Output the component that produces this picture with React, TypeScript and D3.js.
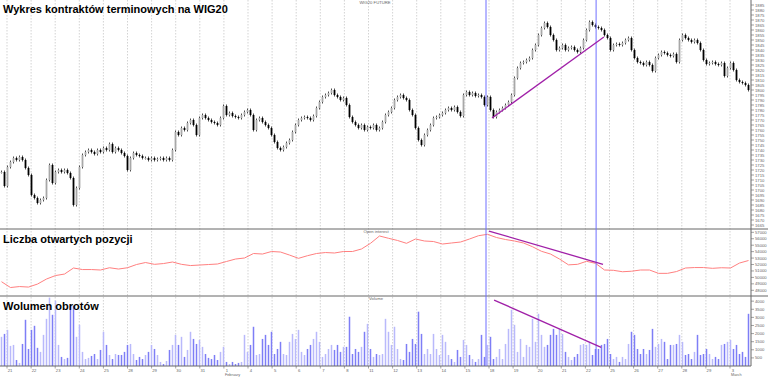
import React from "react";
import * as d3 from "d3";

// Closing prices of the intraday bars (8 bars per session)
const closes = [
  1718, 1704, 1723, 1728, 1732, 1730, 1733, 1730,
  1722, 1715, 1695, 1692, 1687, 1690, 1692, 1710,
  1725, 1707, 1718, 1720, 1718, 1720, 1717, 1712,
  1685, 1702, 1723, 1735, 1738, 1740, 1738, 1736,
  1740, 1738, 1742, 1740, 1746, 1738, 1742, 1740,
  1737, 1734, 1720, 1732, 1737, 1735, 1734, 1732,
  1732, 1730, 1732, 1730, 1731, 1732, 1730, 1732,
  1730, 1740, 1758, 1755, 1762, 1760, 1767, 1770,
  1765, 1755, 1772, 1775, 1772, 1770, 1768, 1767,
  1765, 1772, 1784, 1775, 1777, 1774, 1773, 1772,
  1775, 1778, 1780, 1775, 1760, 1770, 1772, 1768,
  1765, 1762, 1755, 1748, 1742, 1740, 1743, 1747,
  1750, 1758, 1765, 1770, 1772, 1773, 1772, 1770,
  1774, 1782, 1788, 1793, 1795, 1797, 1800, 1795,
  1793, 1790, 1792, 1785, 1773, 1768, 1765, 1762,
  1765, 1760, 1763, 1762, 1765, 1760, 1762, 1768,
  1775, 1778, 1782, 1790, 1793, 1795, 1792, 1790,
  1780, 1775, 1762, 1750, 1745, 1755, 1760, 1765,
  1772, 1773, 1775, 1777, 1780, 1782, 1780, 1783,
  1778, 1774, 1795, 1798, 1795, 1797, 1794, 1795,
  1793, 1785, 1793, 1780, 1773, 1778, 1780, 1782,
  1785, 1788, 1795, 1812, 1822, 1827, 1828, 1830,
  1832, 1840, 1845, 1855, 1862, 1867, 1863, 1855,
  1850, 1840, 1842, 1845, 1840, 1842, 1843, 1840,
  1838, 1842, 1850, 1860, 1868, 1865, 1863, 1862,
  1860, 1855, 1852, 1840, 1845, 1846, 1845, 1847,
  1850, 1852, 1840, 1832, 1828, 1827, 1825, 1828,
  1825, 1819, 1832, 1835, 1838, 1837, 1835, 1834,
  1836, 1828, 1850, 1855, 1852, 1850, 1848, 1850,
  1847, 1840, 1830, 1826, 1827, 1828, 1826, 1825,
  1827, 1814, 1822, 1827, 1820, 1810, 1808, 1807,
  1805, 1800,
];

// Volume of each bar
const volumes = [
  1800, 1980, 2230, 1240, 1300, 370, 190, 1360, 2850, 1050,
  2230, 2480, 1120, 870, 1920, 2910, 4220, 3160, 4030, 1300,
  560, 430, 500, 3720, 3720, 1800, 2540, 870, 430, 500,
  620, 740, 430, 990, 2110, 1300, 680, 430, 740, 680,
  680, 870, 1300, 1360, 740, 370, 560, 430, 680, 870,
  1300, 1050, 680, 250, 120, 310, 990, 1300, 1920, 1300,
  1800, 560, 990, 2110, 1670, 1360, 1610, 1180, 740, 500,
  430, 680, 370, 870, 1180, 250, 120, 250, 120, 190,
  250, 1920, 870, 1300, 2420, 680, 740, 1670, 1920, 1300,
  2110, 740, 1050, 1490, 740, 680, 1490, 1980, 1670, 2230,
  870, 680, 1050, 1300, 1670, 2110, 1490, 560, 740, 1050,
  1300, 990, 1300, 870, 1180, 1180, 3040, 740, 1050, 870,
  1180, 2110, 2600, 1050, 560, 740, 680, 740,
  2910, 2110, 1300, 2420, 1050, 430, 370, 1360, 870, 1670,
  1360, 3350, 1980, 740, 1050, 740, 1980, 1050, 680, 1920,
  1490, 680, 430, 250, 990, 560, 1610, 1300, 680, 430,
  250, 430, 1920, 560, 1300, 1800, 430, 560, 1050, 430,
  1360, 2290, 3470, 2540, 870, 1670, 560, 1300, 1180, 2910,
  1490, 3220, 1920, 1180, 1300, 1920, 2290, 1920, 2290, 1980,
  870, 560, 370, 560, 740, 1300, 1360, 1300, 1490, 680,
  1050, 1050, 1300, 1360, 1670, 740, 430, 560, 250, 560,
  430, 1360, 2110, 1920, 1050, 740, 1050, 740, 990, 2290,
  1180, 1360, 1670, 1490, 430, 1300, 1300, 1360, 1920, 1490,
  680, 740, 430, 870, 1920, 680, 740, 1050, 740, 430,
  560, 430, 1300, 1360, 1490, 1610, 1050, 1300, 740, 870,
  560, 3220,
];

// Open interest, one reading every 3 bars
const openInterest = [
  49330, 48430, 48580, 48500, 48970, 49750, 50290, 50520, 51460, 51220,
  51220, 51150, 51500, 51300, 51500, 52000, 52310, 52030, 52150, 52390,
  52030, 51840, 51920, 52000, 52080, 52470, 52850, 53010, 53710, 53630,
  54020, 53940, 53470, 52960, 53370, 53710, 53860, 53790, 54020, 54020,
  54410, 55290, 56430, 56070, 55730, 55290, 55960, 55650, 55570, 55180,
  55340, 55490, 55960, 56470, 56690, 56190, 55880, 55650, 55340, 54760,
  54050, 53630, 52850, 51950, 52030, 52500, 52190, 51150, 51100, 50880,
  50960, 51150, 51150, 50630, 50630, 50910, 51460, 51530, 51530, 51410,
  51500, 51460, 52230, 52620,
];
const oiStep = 3;

// Session (day) labels on the time axis
const dayLabels = [
  "21", "22", "23", "24", "25", "28", "29", "30", "31",
  "1", "4", "5", "6", "7", "8", "11", "12", "13", "14", "15",
  "18", "19", "20", "21", "22", "25", "26", "27", "28", "29",
  "3",
];
const monthLabels = [
  { day: 9, text: "February" },
  { day: 30, text: "March" },
];

const priceTicks = d3.range(1665, 1886, 5);
const oiTicks = d3.range(48000, 57001, 1000);
const volTicks = d3.range(500, 4001, 500);

// Annotations (bar index, value)
const markerBars = [162, 198.7];
const priceTrend = [
  [164, 1772],
  [201.3, 1853],
];
const oiTrend = [
  [163, 57200],
  [201, 52030],
];
const volTrend = [
  [164.7, 4070],
  [200.4, 1150],
];

const W = 768;
const H = 377;
const AX = 751;
const SEP1 = 229;
const SEP2 = 296;
const BASE = 366;

export default function App() {
  const n = closes.length;
  const x = d3.scaleLinear().domain([0, n]).range([0, 750]);
  const xDay = d3.scaleLinear().domain([0, 30]).range([7, 730]);
  const yP = d3.scaleLinear().domain([1664, 1890]).range([226, 0]);
  const yOI = d3.scaleLinear().domain([48000, 57000]).range([290.3, 232.3]);
  const yV = d3.scaleLinear().domain([0, 4000]).range([BASE, BASE - 4000 / 61.7]);

  const bars = closes.map((c, i) => {
    const o = i === 0 ? c : closes[i - 1];
    const hi = Math.max(o, c) + 1.5;
    const lo = Math.min(o, c) - 1.5;
    return { i, o, c, hi, lo, up: c >= o };
  });

  const oiLine = d3
    .line<number>()
    .x((_, k) => x(k * oiStep + 0.5))
    .y((d) => yOI(d))(openInterest);

  const font = "'Liberation Sans', Arial, sans-serif";
  const tiny = { fontFamily: font, fontSize: 4.2, fill: "#666" } as const;

  return (
    <svg
      width={W}
      height={H}
      style={{ position: "absolute", left: 0, top: 0, background: "#fff" }}
    >
      <defs>
        <clipPath id="pclip">
          <rect x={0} y={0} width={AX} height={SEP1} />
        </clipPath>
      </defs>
      <rect x={0} y={0} width={W} height={H} fill="#fff" />
      {/* day gridlines */}
      {dayLabels.map((_, k) => (
        <line
          key={"g" + k}
          x1={xDay(k)}
          x2={xDay(k)}
          y1={0}
          y2={BASE}
          stroke="#c8c8c8"
          strokeWidth={0.8}
          strokeDasharray="1.5,1.5"
        />
      ))}

      {/* candles */}
      <g clipPath="url(#pclip)">
        {bars.map((b) => {
          const cx = x(b.i + 0.5);
          const top = yP(Math.max(b.o, b.c));
          const bot = yP(Math.min(b.o, b.c));
          return (
            <g key={"c" + b.i}>
              <line x1={cx} x2={cx} y1={yP(b.hi)} y2={yP(b.lo)} stroke="#222" strokeWidth={0.8} />
              <rect
                x={cx - 0.9}
                y={top}
                width={1.8}
                height={Math.max(1, bot - top)}
                fill={b.up ? "#a8a8a8" : "#000"}
              />
            </g>
          );
        })}
      </g>

      {/* open interest */}
      <path d={oiLine || ""} fill="none" stroke="#ff8080" strokeWidth={1} />

      {/* volume */}
      {volumes.map((v, i) => (
        <rect
          key={"v" + i}
          x={x(i + 0.5) - 0.75}
          y={Math.max(SEP2, yV(v))}
          width={1.5}
          height={BASE - Math.max(SEP2, yV(v))}
          fill={bars[i] && bars[i].up ? "#b9b9fb" : "#7e7ef6"}
        />
      ))}

      {/* separators & axes */}
      <line x1={0} x2={W} y1={SEP1} y2={SEP1} stroke="#666" strokeWidth={1} />
      <line x1={0} x2={W} y1={SEP2} y2={SEP2} stroke="#666" strokeWidth={1} />
      <line x1={0} x2={AX} y1={BASE} y2={BASE} stroke="#666" strokeWidth={1} />
      <line x1={AX} x2={AX} y1={0} y2={BASE} stroke="#666" strokeWidth={1} />

      {/* marker verticals */}
      {markerBars.map((m, k) => (
        <line key={"m" + k} x1={x(m)} x2={x(m)} y1={0} y2={BASE} stroke="#6f6fff" strokeWidth={1} />
      ))}

      {/* trend lines */}
      <line
        x1={x(priceTrend[0][0])}
        y1={yP(priceTrend[0][1])}
        x2={x(priceTrend[1][0])}
        y2={yP(priceTrend[1][1])}
        stroke="#a020a8"
        strokeWidth={1.3}
      />
      <line
        x1={x(oiTrend[0][0])}
        y1={yOI(oiTrend[0][1])}
        x2={x(oiTrend[1][0])}
        y2={yOI(oiTrend[1][1])}
        stroke="#a020a8"
        strokeWidth={1.3}
      />
      <line
        x1={x(volTrend[0][0])}
        y1={yV(volTrend[0][1])}
        x2={x(volTrend[1][0])}
        y2={yV(volTrend[1][1])}
        stroke="#a020a8"
        strokeWidth={1.3}
      />

      {/* right axis ticks */}
      {priceTicks.map((p) => (
        <g key={"pt" + p}>
          <line x1={AX} x2={AX + 3} y1={yP(p)} y2={yP(p)} stroke="#666" strokeWidth={0.6} />
          <text x={AX + 4} y={yP(p) + 1.5} {...tiny}>
            {p}
          </text>
        </g>
      ))}
      {oiTicks.map((p) => (
        <g key={"ot" + p}>
          <line x1={AX} x2={AX + 3} y1={yOI(p)} y2={yOI(p)} stroke="#666" strokeWidth={0.6} />
          <text x={AX + 4} y={yOI(p) + 1.5} {...tiny}>
            {p}
          </text>
        </g>
      ))}
      {volTicks.map((p) => (
        <g key={"vt" + p}>
          <line x1={AX} x2={AX + 3} y1={yV(p)} y2={yV(p)} stroke="#666" strokeWidth={0.6} />
          <text x={AX + 4} y={yV(p) + 1.5} {...tiny}>
            {p}
          </text>
        </g>
      ))}

      {/* bottom axis */}
      {dayLabels.map((d, k) => (
        <g key={"d" + k}>
          <line x1={xDay(k)} x2={xDay(k)} y1={BASE} y2={BASE + 2.5} stroke="#666" strokeWidth={0.6} />
          <text x={xDay(k) + 3} y={BASE + 5.5} textAnchor="middle" {...tiny}>
            {d}
          </text>
        </g>
      ))}
      {monthLabels.map((m) => (
        <text key={m.text} x={xDay(m.day) + 1} y={BASE + 10.3} {...tiny} fontSize={3.8}>
          {m.text}
        </text>
      ))}

      {/* small panel captions */}
      <text x={375} y={4} textAnchor="middle" {...tiny}>
        WIG20 FUTURE
      </text>
      <text x={376} y={232.5} textAnchor="middle" {...tiny}>
        Open interest
      </text>
      <text x={376} y={300} textAnchor="middle" {...tiny}>
        Volume
      </text>

      {/* panel titles */}
      <text x={3} y={13} fontFamily={font} fontWeight="bold" fontSize={11} fill="#000">
        Wykres kontraktów terminowych na WIG20
      </text>
      <text x={3} y={243} fontFamily={font} fontWeight="bold" fontSize={11} fill="#000">
        Liczba otwartych pozycji
      </text>
      <text x={3} y={309.5} fontFamily={font} fontWeight="bold" fontSize={11} fill="#000">
        Wolumen obrotów
      </text>
    </svg>
  );
}
